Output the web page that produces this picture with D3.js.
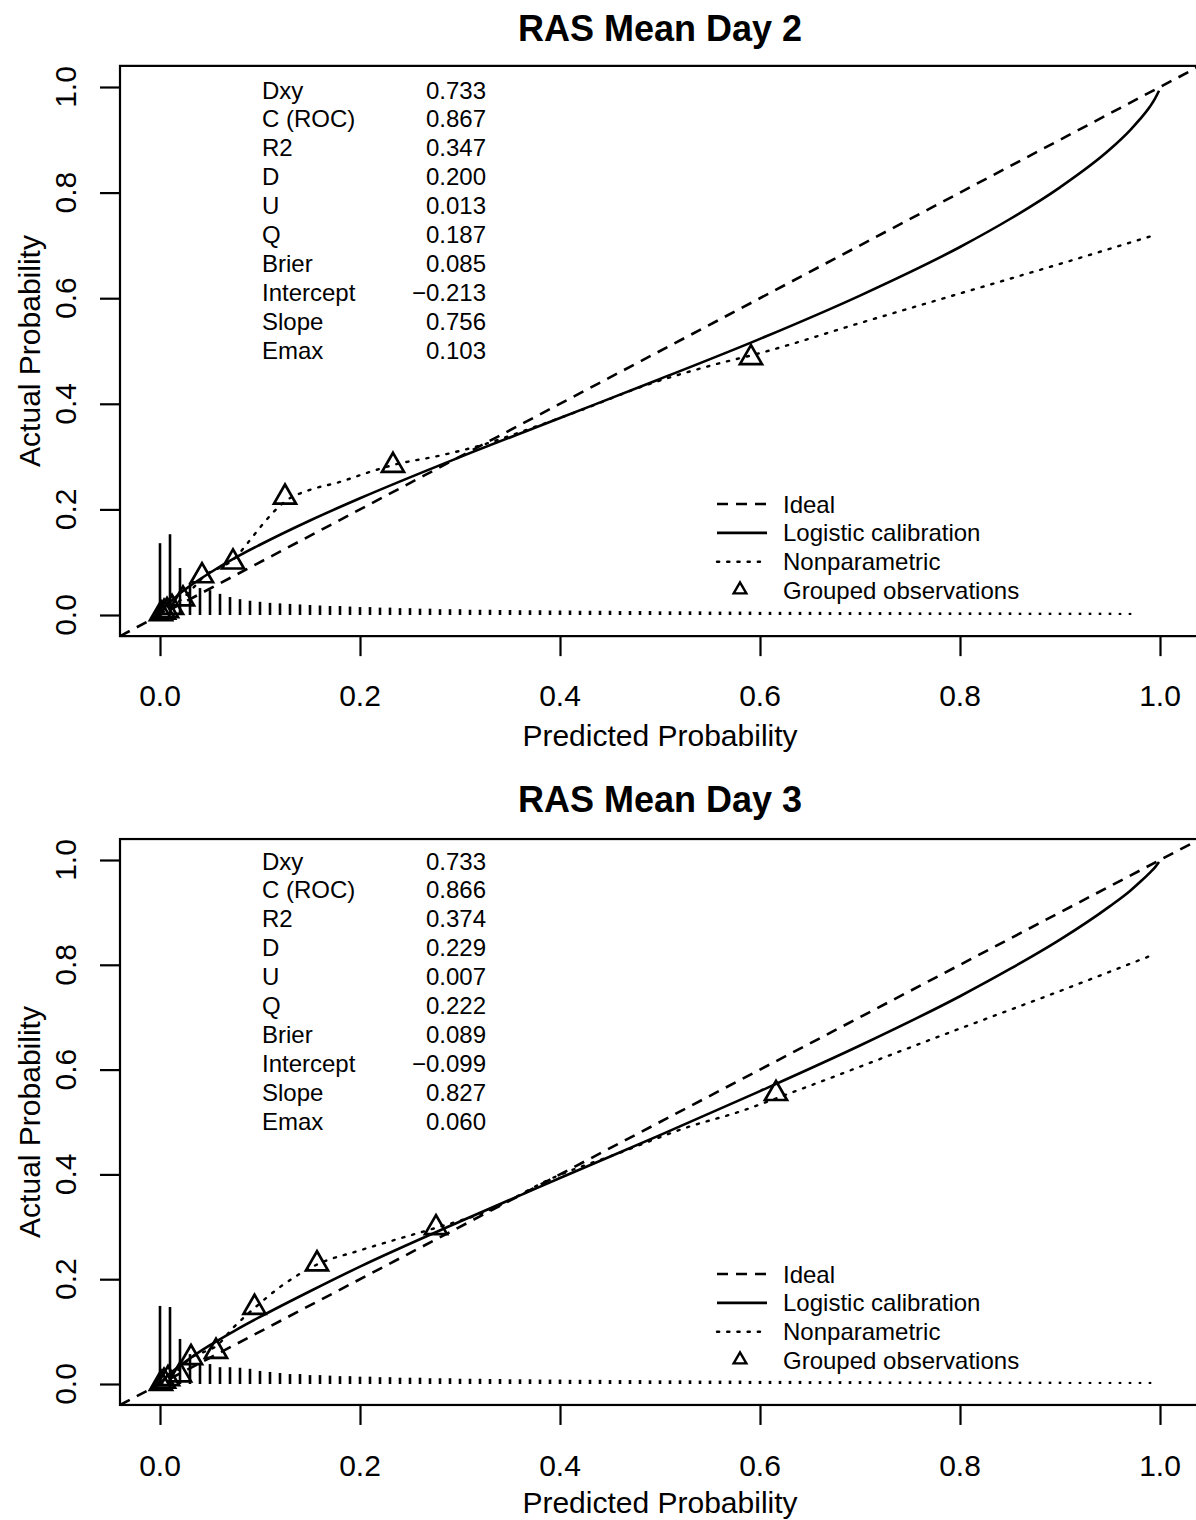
<!DOCTYPE html>
<html>
<head>
<meta charset="utf-8">
<script src="https://cdn.jsdelivr.net/npm/d3@7"></script>
<style>
  html, body { margin: 0; padding: 0; background: #fff; }
  svg { display: block; font-family: "Liberation Sans", Arial, Helvetica, sans-serif; }
</style>
</head>
<body>
<svg id="chart" width="1196" height="1520"></svg>
<script>
// ---------------- DATA ----------------
const titles = ["RAS Mean Day 2", "RAS Mean Day 3"];
const xLabel = "Predicted Probability";
const yLabel = "Actual Probability";
const tickValues = [0.0, 0.2, 0.4, 0.6, 0.8, 1.0];
const tickLabels = ["0.0", "0.2", "0.4", "0.6", "0.8", "1.0"];

const statNames = ["Dxy", "C (ROC)", "R2", "D", "U", "Q", "Brier", "Intercept", "Slope", "Emax"];
const statValues1 = ["0.733", "0.867", "0.347", "0.200", "0.013", "0.187", "0.085", "\u22120.213", "0.756", "0.103"];
const statValues2 = ["0.733", "0.866", "0.374", "0.229", "0.007", "0.222", "0.089", "\u22120.099", "0.827", "0.060"];

const legendLabels = ["Ideal", "Logistic calibration", "Nonparametric", "Grouped observations"];

// Logistic calibration curve (predicted, actual)
const logistic1 = [[0.001,0.004],[0.005,0.015],[0.01,0.024],[0.02,0.041],[0.03,0.055],[0.05,0.080],[0.075,0.108],[0.1,0.133],[0.15,0.179],[0.2,0.221],[0.3,0.299],[0.4,0.373],[0.5,0.447],[0.6,0.523],[0.7,0.605],[0.8,0.697],[0.85,0.750],[0.9,0.810],[0.95,0.882],[0.97,0.918],[0.98,0.939],[0.99,0.963],[0.995,0.978],[0.999,0.993]];
const logistic2 = [[0.001,0.003],[0.005,0.011],[0.01,0.020],[0.02,0.035],[0.03,0.049],[0.05,0.074],[0.075,0.102],[0.1,0.128],[0.15,0.177],[0.2,0.224],[0.3,0.310],[0.4,0.393],[0.5,0.475],[0.6,0.559],[0.7,0.646],[0.8,0.740],[0.85,0.792],[0.9,0.848],[0.95,0.912],[0.97,0.941],[0.98,0.958],[0.99,0.976],[0.995,0.986],[0.999,0.996]];

// Nonparametric (loess) curve
const nonpar1 = [[0.002,0.004],[0.01,0.014],[0.023,0.032],[0.035,0.055],[0.045,0.075],[0.06,0.090],[0.073,0.104],[0.085,0.130],[0.098,0.161],[0.114,0.196],[0.125,0.215],[0.15,0.237],[0.18,0.252],[0.205,0.268],[0.233,0.284],[0.28,0.302],[0.322,0.322],[0.37,0.353],[0.421,0.388],[0.487,0.436],[0.55,0.472],[0.6,0.496],[0.7,0.553],[0.8,0.609],[0.9,0.665],[0.992,0.718]];
const nonpar2 = [[0.002,0.004],[0.01,0.015],[0.02,0.030],[0.031,0.050],[0.045,0.062],[0.056,0.072],[0.073,0.107],[0.0945,0.145],[0.12,0.185],[0.157,0.228],[0.2,0.255],[0.24,0.278],[0.276,0.298],[0.322,0.326],[0.396,0.396],[0.458,0.440],[0.529,0.491],[0.58,0.520],[0.63,0.555],[0.78,0.664],[0.9,0.750],[0.993,0.819]];

// Grouped observations (triangles)
const groups1 = [[0.001,0.004],[0.004,0.007],[0.007,0.010],[0.012,0.016],[0.023,0.032],[0.042,0.076],[0.073,0.102],[0.125,0.225],[0.233,0.285],[0.591,0.489]];
const groups2 = [[0.001,0.003],[0.004,0.007],[0.008,0.012],[0.020,0.019],[0.031,0.052],[0.056,0.064],[0.0945,0.148],[0.157,0.231],[0.276,0.300],[0.616,0.556]];

// Distribution of predicted probabilities (spike heights, bins of 0.01 starting at 0)
const binWidth = 0.01;
const spikeH1 = [0.136,0.153,0.089,0.061,0.051,0.047,0.040,0.034,0.030,0.027,
0.025,0.023,0.022,0.021,0.020,0.019,0.018,0.017,0.017,0.016,
0.015,0.015,0.014,0.014,0.013,0.013,0.012,0.012,0.011,0.011,
0.011,0.010,0.010,0.010,0.0095,0.0095,0.009,0.009,0.009,0.0085,
0.0085,0.0085,0.008,0.008,0.008,0.008,0.0075,0.0075,0.0075,0.0075,
0.007,0.007,0.007,0.007,0.007,0.0065,0.0065,0.0065,0.0065,0.0065,
0.006,0.006,0.006,0.006,0.006,0.006,0.006,0.0055,0.0055,0.0055,
0.0055,0.0055,0.0055,0.0055,0.0055,0.005,0.005,0.005,0.005,0.005,
0.005,0.005,0.005,0.005,0.005,0.005,0.0045,0.0045,0.0045,0.0045,
0.0045,0.0045,0.0045,0.0045,0.0045,0.0045,0.004,0.004];
const spikeH2 = [0.149,0.147,0.086,0.057,0.040,0.038,0.032,0.032,0.031,0.029,
0.025,0.023,0.021,0.019,0.019,0.017,0.017,0.016,0.015,0.015,
0.014,0.014,0.013,0.013,0.012,0.012,0.012,0.011,0.011,0.011,
0.010,0.010,0.010,0.0095,0.0095,0.009,0.009,0.009,0.0085,0.0085,
0.0085,0.008,0.008,0.008,0.008,0.0075,0.0075,0.0075,0.0075,0.007,
0.007,0.007,0.007,0.007,0.0065,0.0065,0.0065,0.0065,0.0065,0.006,
0.006,0.006,0.006,0.006,0.006,0.0055,0.0055,0.0055,0.0055,0.0055,
0.0055,0.0055,0.005,0.005,0.005,0.005,0.005,0.005,0.005,0.005,
0.005,0.0045,0.0045,0.0045,0.0045,0.0045,0.0045,0.0045,0.0045,0.0045,
0.0045,0.004,0.004,0.004,0.004,0.004,0.004,0.004,0.004,0.004];

// ---------------- LAYOUT ----------------
const panels = [
  { title: titles[0], stats: statValues1, logistic: logistic1, nonpar: nonpar1, groups: groups1, spikes: spikeH1,
    y0: 615, y1: 87, titleY: 41, tickLabY: 706, axisLabY: 746, statY: 98.5, legY: 504 },
  { title: titles[1], stats: statValues2, logistic: logistic2, nonpar: nonpar2, groups: groups2, spikes: spikeH2,
    y0: 1384, y1: 860, titleY: 812, tickLabY: 1476, axisLabY: 1513, statY: 869.5, legY: 1274 }
];

const svg = d3.select("#chart");
const x = d3.scaleLinear().domain([0, 1]).range([160, 1160]);
const DASH = "11,8";
const DOT = "2.2,8";
const LW = 2.6;

panels.forEach((p, pi) => {
  const y = d3.scaleLinear().domain([0, 1]).range([p.y0, p.y1]);
  const g = svg.append("g");
  const bx0 = x(-0.04), bx1 = x(1.04), by0 = y(-0.04), by1 = y(1.04);

  const clipId = "clip" + pi;
  svg.append("clipPath").attr("id", clipId).append("rect")
    .attr("x", bx0).attr("y", by1).attr("width", bx1 - bx0).attr("height", by0 - by1);

  // title
  g.append("text").attr("x", (bx0 + bx1) / 2).attr("y", p.titleY)
    .attr("text-anchor", "middle").attr("font-size", 36).attr("font-weight", "bold").text(p.title);

  // box
  g.append("rect").attr("x", bx0).attr("y", by1).attr("width", bx1 - bx0).attr("height", by0 - by1)
    .attr("fill", "none").attr("stroke", "#000").attr("stroke-width", 2.2);

  // x axis
  const xAxis = d3.axisBottom(x).tickValues(tickValues).tickSize(20).tickFormat("");
  const xa = g.append("g").attr("transform", `translate(0,${by0})`).call(xAxis);
  xa.select(".domain").remove();
  xa.selectAll("line").attr("stroke", "#000").attr("stroke-width", 2.2);
  tickValues.forEach((v, i) => {
    g.append("text").attr("x", x(v)).attr("y", p.tickLabY).attr("text-anchor", "middle")
      .attr("font-size", 30).text(tickLabels[i]);
  });
  g.append("text").attr("x", (bx0 + bx1) / 2).attr("y", p.axisLabY).attr("text-anchor", "middle")
    .attr("font-size", 30).text(xLabel);

  // y axis
  const yAxis = d3.axisLeft(y).tickValues(tickValues).tickSize(20).tickFormat("");
  const ya = g.append("g").attr("transform", `translate(${bx0},0)`).call(yAxis);
  ya.select(".domain").remove();
  ya.selectAll("line").attr("stroke", "#000").attr("stroke-width", 2.2);
  tickValues.forEach((v, i) => {
    g.append("text").attr("transform", `translate(76,${y(v)}) rotate(-90)`).attr("text-anchor", "middle")
      .attr("font-size", 30).text(tickLabels[i]);
  });
  g.append("text").attr("transform", `translate(40,${(by0 + by1) / 2}) rotate(-90)`).attr("text-anchor", "middle")
    .attr("font-size", 30).text(yLabel);

  const plot = g.append("g").attr("clip-path", `url(#${clipId})`);

  // spikes
  plot.selectAll(".spike").data(p.spikes).enter().append("line")
    .attr("x1", (d, i) => x(i * binWidth)).attr("x2", (d, i) => x(i * binWidth))
    .attr("y1", y(0)).attr("y2", d => y(d))
    .attr("stroke", "#000").attr("stroke-width", 2.6);

  // ideal
  plot.append("line").attr("x1", x(-0.04)).attr("y1", y(-0.04)).attr("x2", x(1.04)).attr("y2", y(1.04))
    .attr("stroke", "#000").attr("stroke-width", LW).attr("stroke-dasharray", DASH);

  const line = d3.line().x(d => x(d[0])).y(d => y(d[1])).curve(d3.curveMonotoneX);
  // logistic
  plot.append("path").attr("d", line(p.logistic)).attr("fill", "none").attr("stroke", "#000").attr("stroke-width", LW);
  // nonparametric
  plot.append("path").attr("d", line(p.nonpar)).attr("fill", "none").attr("stroke", "#000")
    .attr("stroke-width", 2.4).attr("stroke-dasharray", DOT).attr("stroke-linecap", "round");

  // grouped triangles
  const tri = d3.symbol().type(d3.symbolTriangle).size(210);
  plot.selectAll(".tri").data(p.groups).enter().append("path")
    .attr("d", tri).attr("transform", d => `translate(${x(d[0])},${y(d[1]) + 1})`)
    .attr("fill", "none").attr("stroke", "#000").attr("stroke-width", 2.7);

  // stats
  statNames.forEach((n, i) => {
    g.append("text").attr("x", 262).attr("y", p.statY + i * 28.9).attr("font-size", 24).text(n);
    g.append("text").attr("x", 486).attr("y", p.statY + i * 28.9).attr("font-size", 24)
      .attr("text-anchor", "end").text(p.stats[i]);
  });

  // legend
  const lx0 = 717, lx1 = 767, ltx = 783, lsp = 28.9;
  const ly = i => p.legY + i * lsp;
  g.append("line").attr("x1", lx0).attr("x2", lx1).attr("y1", ly(0)).attr("y2", ly(0))
    .attr("stroke", "#000").attr("stroke-width", LW).attr("stroke-dasharray", DASH);
  g.append("line").attr("x1", lx0).attr("x2", lx1).attr("y1", ly(1)).attr("y2", ly(1))
    .attr("stroke", "#000").attr("stroke-width", LW);
  g.append("line").attr("x1", lx0).attr("x2", lx1).attr("y1", ly(2)).attr("y2", ly(2))
    .attr("stroke", "#000").attr("stroke-width", 2.4).attr("stroke-dasharray", DOT).attr("stroke-linecap", "round");
  g.append("path").attr("d", d3.symbol().type(d3.symbolTriangle).size(70))
    .attr("transform", `translate(740,${ly(3) - 1})`).attr("fill", "none").attr("stroke", "#000").attr("stroke-width", 2.4);
  legendLabels.forEach((t, i) => {
    g.append("text").attr("x", ltx).attr("y", ly(i) + 8.5).attr("font-size", 24).text(t);
  });
});
</script>
</body>
</html>
